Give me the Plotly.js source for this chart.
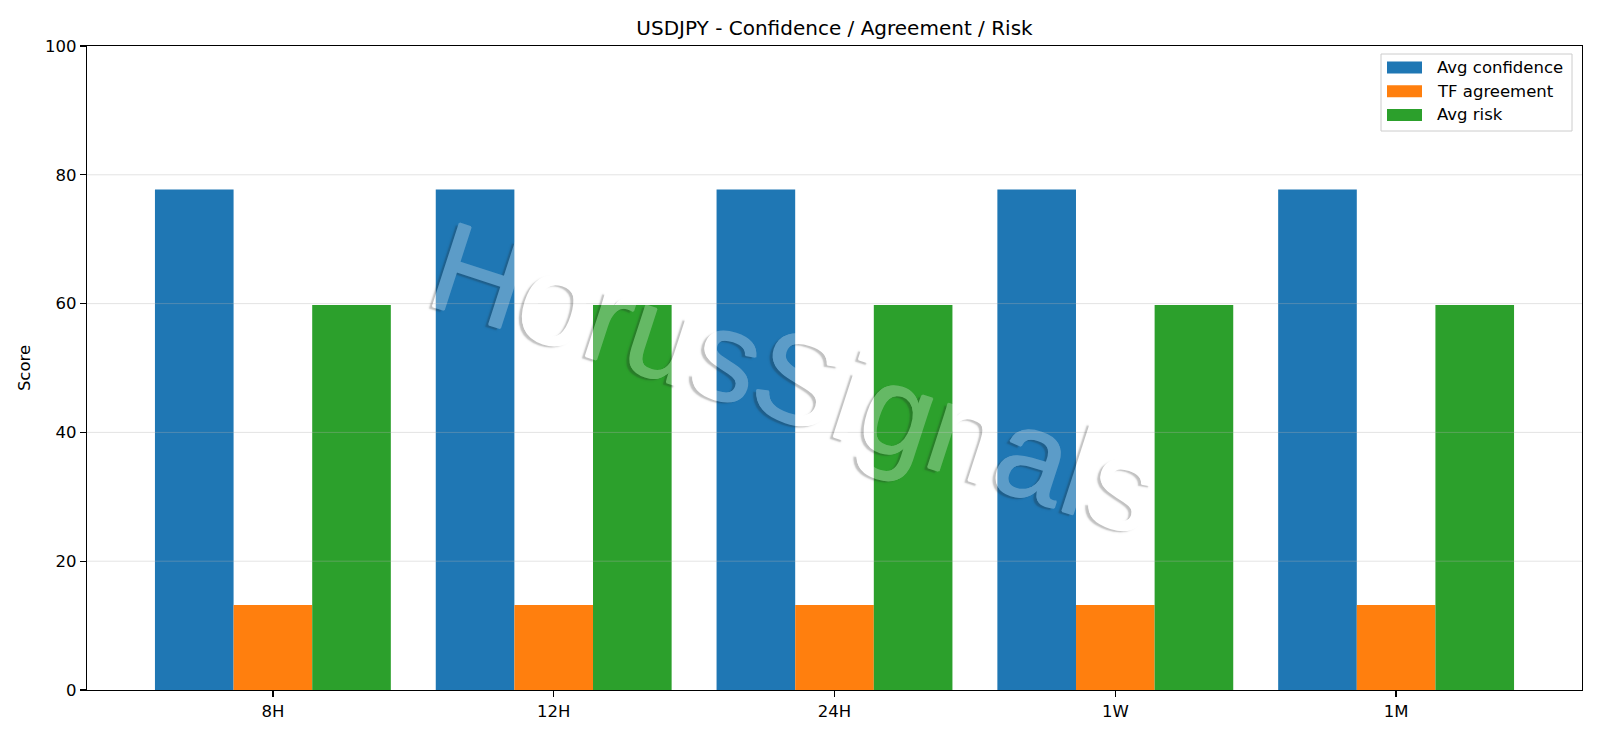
<!DOCTYPE html>
<html>
<head>
<meta charset="utf-8">
<script src="https://cdn.plot.ly/plotly-3.0.1.min.js"></script>
<style>html,body{margin:0;padding:0;background:#fff;}#chart{width:1600px;height:738px;}</style>
</head>
<body>
<div id="chart"></div>
<script>
// ---- data ----
const categories = ['8H', '12H', '24H', '1W', '1M'];
const avgConfidence = [77.7, 77.7, 77.7, 77.7, 77.7];
const tfAgreement = [13.2, 13.2, 13.2, 13.2, 13.2];
const avgRisk = [59.8, 59.8, 59.8, 59.8, 59.8];
const seriesNames = ['Avg confidence', 'TF agreement', 'Avg risk'];
const seriesColors = ['#1f77b4', '#ff7f0e', '#2ca02c'];
const yTicks = [0, 20, 40, 60, 80, 100];
const titleText = 'USDJPY - Confidence / Agreement / Risk';
const yTitle = 'Score';
const watermark = 'HorusSignals';

// ---- layout geometry ----
const W = 1600, H = 738;
const M = {l: 87, r: 18, t: 46, b: 48};
const PW = W - M.l - M.r, PH = H - M.t - M.b;
const px = x => (x - M.l) / PW;
const py = y => (H - M.b - y) / PH;
const FONT = 'DejaVu Sans, sans-serif';

const seriesValues = [avgConfidence, tfAgreement, avgRisk];
const traces = seriesValues.map((vals, i) => ({
  type: 'bar', x: categories, y: vals, name: seriesNames[i],
  marker: {color: seriesColors[i], line: {width: 0}},
  hoverinfo: 'x+y+name'
}));

const shapes = [];
const annotations = [];

// grid lines drawn above the bars (matplotlib style, semi-transparent)
yTicks.filter(v => v > 0 && v < 100).forEach(v => {
  shapes.push({type: 'line', xref: 'paper', yref: 'y', x0: 0, x1: 1, y0: v, y1: v,
    line: {color: 'rgba(176,176,176,0.35)', width: 1}, layer: 'above'});
});

// legend (matplotlib-like)
shapes.push({type: 'rect', xref: 'paper', yref: 'paper',
  x0: px(1381), x1: px(1572), y0: py(131), y1: py(54),
  fillcolor: 'rgba(255,255,255,0.8)', line: {color: '#cccccc', width: 1}, layer: 'above'});
const rowY = [67.5, 91.2, 115];
seriesNames.forEach((n, i) => {
  shapes.push({type: 'rect', xref: 'paper', yref: 'paper',
    x0: px(1387), x1: px(1422), y0: py(rowY[i] + 6), y1: py(rowY[i] - 6),
    fillcolor: seriesColors[i], line: {width: 0}, layer: 'above'});
  annotations.push({xref: 'paper', yref: 'paper', x: px(1435), y: py(rowY[i]),
    xanchor: 'left', yanchor: 'middle', text: n, showarrow: false,
    font: {family: FONT, size: 16.5, color: '#000'}});
});

// watermark
annotations.push({xref: 'paper', yref: 'paper', x: px(795), y: py(378),
  xanchor: 'center', yanchor: 'middle', text: watermark, showarrow: false,
  textangle: 18, opacity: 0.27,
  font: {family: 'Liberation Sans, Arial, sans-serif', size: 127, color: '#ffffff',
    shadow: '0.8px 0 0 #fff, -0.8px 0 0 #fff, 0 0.8px 0 #fff, 0 -0.8px 0 #fff, -3px 3px 1.5px rgb(30,30,30)'}});

const axisCommon = {
  showline: true, linecolor: '#000', linewidth: 1.3, mirror: true,
  ticks: 'outside', ticklen: 6, tickwidth: 1.3, tickcolor: '#000',
  tickfont: {family: FONT, size: 16.5, color: '#000'},
  zeroline: false, showgrid: false
};

const layout = {
  width: W, height: H,
  margin: M,
  paper_bgcolor: '#fff', plot_bgcolor: '#fff',
  barmode: 'group', bargap: 0.16, bargroupgap: 0,
  showlegend: false,
  title: {text: titleText, x: 0.5, xref: 'paper', xanchor: 'center',
    y: 1 - 28 / H, yref: 'container', yanchor: 'middle',
    font: {family: FONT, size: 20, color: '#000'}},
  xaxis: Object.assign({}, axisCommon, {type: 'category',
    range: [-0.662, categories.length - 1 + 0.662]}),
  yaxis: Object.assign({}, axisCommon, {range: [0, 100], tickvals: yTicks,
    ticktext: yTicks.map(String),
    title: {text: yTitle, standoff: 10, font: {family: FONT, size: 16.5, color: '#000'}}}),
  shapes: shapes,
  annotations: annotations
};

Plotly.newPlot('chart', traces, layout, {displayModeBar: false, staticPlot: true});
</script>
</body>
</html>
